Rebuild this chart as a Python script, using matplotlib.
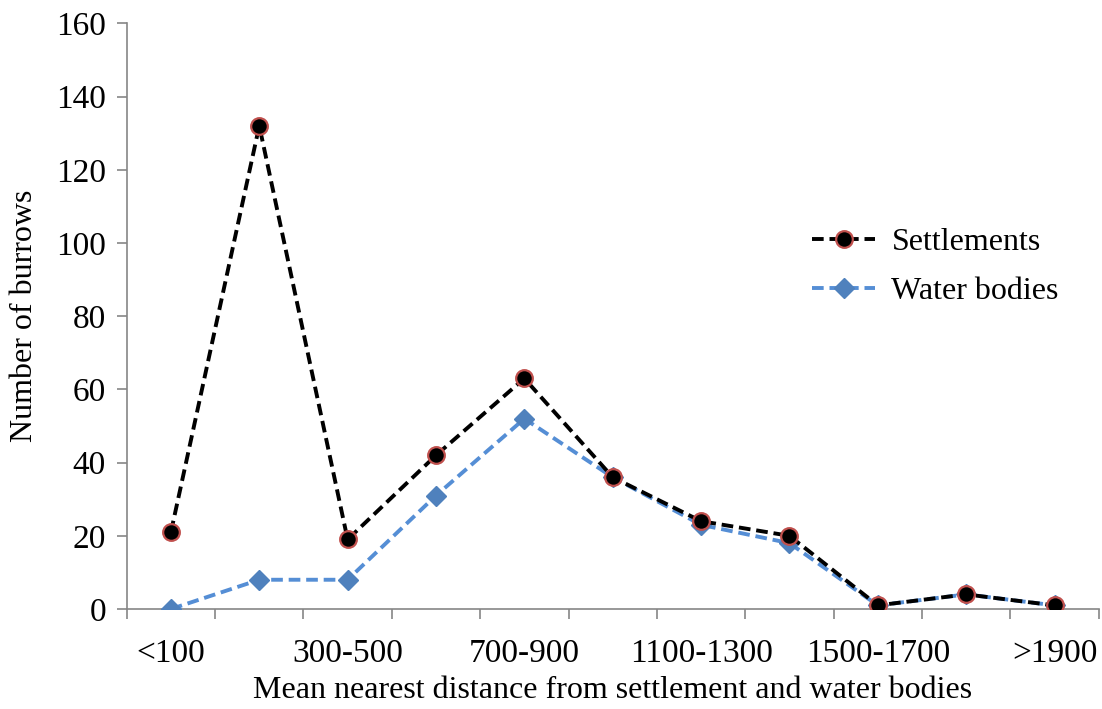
import numpy as np
import matplotlib.pyplot as plt

plt.rcParams['font.family'] = ['Liberation Serif', 'DejaVu Serif']

# data
categories = ['<100', '100-300', '300-500', '500-700', '700-900', '900-1100',
              '1100-1300', '1300-1500', '1500-1700', '1700-1900', '>1900']
settlements = [21, 132, 19, 42, 63, 36, 24, 20, 1, 4, 1]
water_bodies = [0, 8, 8, 31, 52, 36, 23, 18, 1, 4, 1]

x = np.arange(len(categories))

fig = plt.figure(figsize=(11.02, 7.09), dpi=100)
ax = fig.add_axes([0.115, 0.141, 0.882, 0.826])

ax.plot(x, water_bodies, linestyle='--', dashes=(3, 1.5), linewidth=2.8, color='#558ed5',
        marker='D', markersize=10, markerfacecolor='#4f81bd', markeredgecolor='#4f81bd',
        label='Water bodies', zorder=3)
ax.plot(x, settlements, linestyle='--', dashes=(3, 1.5), linewidth=2.8, color='black',
        marker='o', markersize=12, markerfacecolor='black', markeredgecolor='#c0504d',
        markeredgewidth=1.6, label='Settlements', zorder=4)

ax.set_xlim(-0.5, len(categories) - 0.5)
ax.set_ylim(0, 160)
ax.set_yticks(np.arange(0, 161, 20))

# labels on every other category, tick marks between categories
ax.set_xticks(x[::2])
ax.set_xticklabels(categories[::2])
ax.set_xticks(np.arange(-0.5, len(categories), 1), minor=True)
ax.tick_params(axis='x', which='major', length=0, pad=21, labelsize=24)
ax.tick_params(axis='x', which='minor', length=7, color='#868686', width=1.2)
ax.tick_params(axis='y', length=7, color='#868686', width=1.2, labelsize=24, pad=8)

for s in ['top', 'right']:
    ax.spines[s].set_visible(False)
for s in ['left', 'bottom']:
    ax.spines[s].set_color('#868686')
    ax.spines[s].set_linewidth(1.2)

ax.set_xlabel('Mean nearest distance from settlement and water bodies', fontsize=23, labelpad=5)
ax.set_ylabel('Number of burrows', fontsize=23, labelpad=12)

h, l = ax.get_legend_handles_labels()
ax.legend(h[::-1], l[::-1], loc='upper left', bbox_to_anchor=(0.675, 0.70), frameon=False,
          fontsize=23, handlelength=2.0, handletextpad=0.5, labelspacing=0.6)

fig.savefig('out.png', dpi=100)
